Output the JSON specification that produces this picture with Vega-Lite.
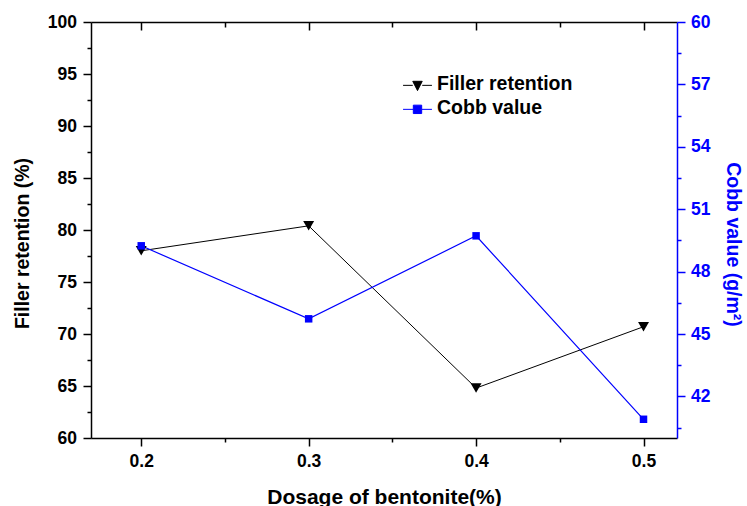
{
  "$schema": "https://vega.github.io/schema/vega-lite/v6.json",
  "autosize": "none",
  "width": 586,
  "height": 416,
  "padding": {"left": 91, "top": 22, "right": 70, "bottom": 68},
  "background": "white",
  "data": {
    "values": [
      {"dosage": 0.2, "filler": 78.0, "cobb": 49.24},
      {"dosage": 0.3, "filler": 80.4, "cobb": 45.73},
      {"dosage": 0.4, "filler": 64.8, "cobb": 49.72},
      {"dosage": 0.5, "filler": 70.7, "cobb": 40.9}
    ]
  },
  "config": {
    "view": {"stroke": null},
    "axis": {
      "grid": false,
      "labelFont": "Liberation Sans",
      "labelFontWeight": "bold",
      "titleFont": "Liberation Sans",
      "titleFontWeight": "bold",
      "domainColor": "black",
      "tickColor": "black",
      "labelColor": "black",
      "titleColor": "black",
      "domainWidth": 1.5,
      "tickWidth": 1.5,
      "labelFlush": false,
      "labelOverlap": false
    }
  },
  "resolve": {
    "scale": {"x": "independent", "y": "independent"},
    "axis": {"x": "independent", "y": "independent"}
  },
  "layer": [
    {
      "mark": {"type": "line", "strokeWidth": 1},
      "encoding": {
        "x": {
          "field": "dosage", "type": "quantitative",
          "scale": {"domain": [0.17, 0.52], "nice": false, "zero": false},
          "axis": {
            "orient": "bottom", "values": [0.2, 0.3, 0.4, 0.5], "format": ".1f",
            "tickSize": 8, "labelFontSize": 17.5, "labelPadding": 6.5,
            "title": "Dosage of bentonite(%)", "titleFontSize": 21,
            "titleX": 293, "titleY": 65, "titleBaseline": "alphabetic", "titleAlign": "center"
          }
        },
        "y": {
          "field": "filler", "type": "quantitative",
          "scale": {"domain": [60, 100], "nice": false, "zero": false},
          "axis": {
            "orient": "left", "values": [60, 65, 70, 75, 80, 85, 90, 95, 100],
            "tickSize": 8, "labelFontSize": 17.5, "labelPadding": 6.5,
            "title": "Filler retention (%)", "titleFontSize": 19.5, "titleAngle": -90,
            "titleX": -63, "titleY": 221, "titleBaseline": "alphabetic", "titleAlign": "center"
          }
        },
        "color": {
          "datum": "Filler retention", "type": "nominal",
          "scale": {"domain": ["Filler retention", "Cobb value"], "range": ["#000000", "#0000ff"]},
          "legend": {
            "orient": "none", "legendX": 312.5, "legendY": 48,
            "title": null, "padding": 0, "rowPadding": 0,
            "symbolSize": 729, "labelOffset": 5.5, "labelLimit": 300,
            "labelFont": "Liberation Sans", "labelFontWeight": "bold", "labelFontSize": 19.5, "labelColor": "black",
            "encode": {
              "symbols": {
                "update": {
                  "shape": {"signal": "datum.value === 'Filler retention' ? 'M-1.07,0.1H-0.35M0.35,0.1H1.07M-0.35,-0.2H0.35L0,0.49Z' : 'M-1.07,0.1H-0.31M0.31,0.1H1.07M-0.31,-0.21H0.31V0.41H-0.31Z'"},
                  "fill": {"signal": "datum.value === 'Filler retention' ? '#000000' : '#0000ff'"},
                  "stroke": {"signal": "datum.value === 'Filler retention' ? '#000000' : '#0000ff'"},
                  "strokeWidth": {"value": 1},
                  "opacity": {"value": 1}
                }
              }
            }
          }
        }
      }
    },
    {
      "mark": {"type": "line", "strokeWidth": 1.2},
      "encoding": {
        "x": {
          "field": "dosage", "type": "quantitative",
          "scale": {"domain": [0.17, 0.52], "nice": false, "zero": false},
          "axis": {"orient": "bottom", "values": [0.25, 0.35, 0.45], "tickSize": 4, "labels": false, "domain": false, "title": null}
        },
        "y": {
          "field": "cobb", "type": "quantitative",
          "scale": {"domain": [40, 60], "nice": false, "zero": false},
          "axis": {
            "orient": "right", "values": [42, 45, 48, 51, 54, 57, 60],
            "tickSize": 8, "labelFontSize": 17.5, "labelPadding": 5.5,
            "labelColor": "#0000ff", "domainColor": "#0000ff", "tickColor": "#0000ff",
            "title": "Cobb value (g/m²)", "titleColor": "#0000ff", "titleFontSize": 19.5, "titleAngle": 90,
            "titleX": 49.5, "titleY": 222, "titleBaseline": "alphabetic", "titleAlign": "center"
          }
        },
        "color": {"datum": "Cobb value", "type": "nominal"}
      }
    },
    {
      "mark": {"type": "point", "shape": "triangle-down", "filled": true, "size": 120, "color": "#000000", "opacity": 1},
      "encoding": {
        "x": {
          "field": "dosage", "type": "quantitative",
          "scale": {"domain": [0.17, 0.52], "nice": false, "zero": false},
          "axis": {"orient": "top", "values": [0.2, 0.3, 0.4, 0.5], "tickSize": -8, "labels": false, "domain": true, "title": null}
        },
        "y": {
          "field": "filler", "type": "quantitative",
          "scale": {"domain": [60, 100], "nice": false, "zero": false},
          "axis": {"orient": "left", "values": [62.5, 67.5, 72.5, 77.5, 82.5, 87.5, 92.5, 97.5], "tickSize": 4, "labels": false, "domain": false, "title": null}
        }
      }
    },
    {
      "mark": {"type": "point", "shape": "square", "filled": true, "size": 56, "color": "#0000ff", "opacity": 1},
      "encoding": {
        "x": {
          "field": "dosage", "type": "quantitative",
          "scale": {"domain": [0.17, 0.52], "nice": false, "zero": false},
          "axis": {"orient": "top", "values": [0.25, 0.35, 0.45], "tickSize": -5, "labels": false, "domain": false, "title": null}
        },
        "y": {
          "field": "cobb", "type": "quantitative",
          "scale": {"domain": [40, 60], "nice": false, "zero": false},
          "axis": {"orient": "right", "values": [40.5, 43.5, 46.5, 49.5, 52.5, 55.5, 58.5], "tickSize": 4, "labels": false, "domain": false, "title": null, "tickColor": "#0000ff"}
        }
      }
    }
  ]
}
